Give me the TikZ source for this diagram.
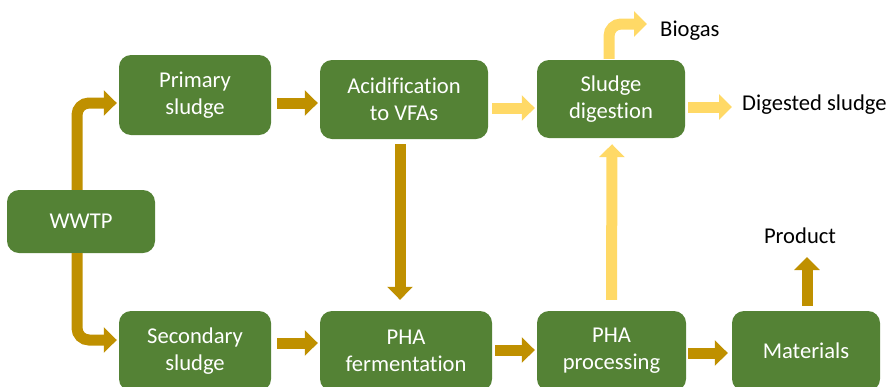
\documentclass[tikz,border=0pt]{standalone}
\usepackage{fontspec}
\setmainfont{Carlito}[Ligatures={NoCommon}]
\usetikzlibrary{arrows.meta,calc}
\definecolor{boxgreen}{HTML}{548235}
\definecolor{gold}{HTML}{BF9000}
\definecolor{lightgold}{HTML}{FFD966}
\tikzset{
  procbox/.style={fill=boxgreen, draw=none, rounded corners=12pt, text=white,
    align=center, inner sep=0pt, font=\fontsize{22.6}{27}\selectfont},
  lbl/.style={text=black, inner sep=0pt, font=\fontsize{22.6}{27}\selectfont},
  ga/.style={draw=gold, line width=11pt, -{Triangle[width=25pt,length=13pt]}},
  ya/.style={draw=lightgold, line width=11pt, -{Triangle[width=25pt,length=13pt]}}
}
\begin{document}
\begin{tikzpicture}[x=1pt,y=-1pt]
\useasboundingbox (0,0) rectangle (890,386);
% boxes
\node[procbox, minimum width=148pt, minimum height=63pt] (wwtp) at (81,221.5) {WWTP};
\node[procbox, minimum width=152pt, minimum height=80pt] (prim) at (195,95) {Primary\\sludge};
\node[procbox, minimum width=168pt, minimum height=79pt] (acid) at (404,99.5) {Acidification\\to VFAs};
\node[procbox, minimum width=148pt, minimum height=78pt] (dig) at (611,99) {Sludge\\digestion};
\node[procbox, minimum width=152pt, minimum height=80pt] (sec) at (195,351) {Secondary\\sludge};
\node[procbox, minimum width=172pt, minimum height=80pt] (ferm) at (406,351) {PHA\\fermentation};
\node[procbox, minimum width=149pt, minimum height=80pt] (proc) at (611.5,351) {PHA\\processing};
\node[procbox, minimum width=148pt, minimum height=80pt] (mat) at (806,351) {Materials};
% outside labels
\node[lbl, anchor=west] (bio) at (660,31) {Biogas};
\node[lbl, anchor=west] (dgs) at (742,105) {Digested sludge};
\node[lbl] (prod) at (800,236) {Product};
% arrows
\draw[ga, rounded corners=12pt] ($(wwtp.north)+(-4,0)$) |- ($(prim.west)+(-2,8)$);
\draw[ga, rounded corners=12pt] ($(wwtp.south)+(-4,0)$) |- ($(sec.west)+(-2,-11)$);
\draw[ga] ($(prim.east)+(6,8)$) -- ($(prim.east -| acid.west)+(-2,8)$);
\draw[ya] ($(acid.east)+(4,8.5)$) -- ($(acid.east -| dig.west)+(-2,8.5)$);
\draw[ya] ($(dig.east)+(3,8)$) -- ($(dig.east -| dgs.west)+(-10,8)$);
\draw[ya, rounded corners=12pt] ($(dig.north)+(-2,-1)$) |- ($(bio.west)+(-13,-7)$);
\draw[ga] ($(acid.south)+(-4,5)$) -- ($(ferm.north)+(-6,-11)$);
\draw[ya] ($(proc.north)+(0,-11)$) -- ($(dig.south)+(1,6)$);
\draw[ga] ($(sec.east)+(6,-8)$) -- ($(sec.east -| ferm.west)+(-2,-8)$);
\draw[ga] ($(ferm.east)+(3,-1)$) -- ($(ferm.east -| proc.west)+(-2,-1)$);
\draw[ga] ($(proc.east)+(2,2)$) -- ($(proc.east -| mat.west)+(-4,2)$);
\draw[ga] ($(mat.north)+(1,-5)$) -- ($(prod.center)+(7,21)$);
\end{tikzpicture}
\end{document}
